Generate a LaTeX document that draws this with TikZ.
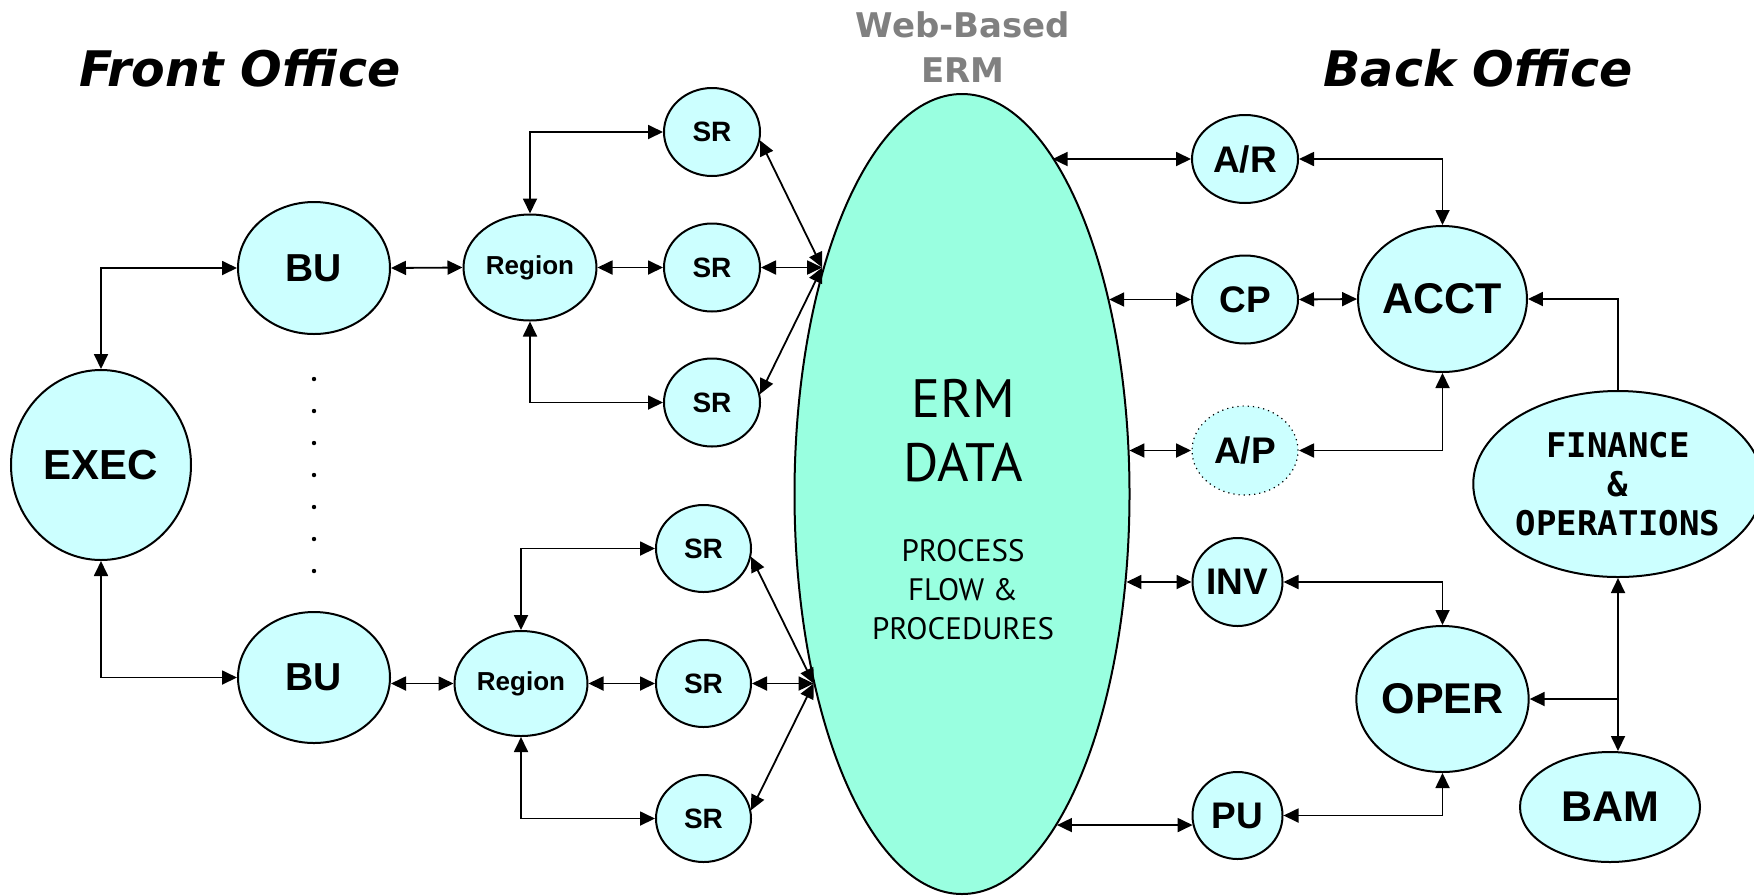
\documentclass[tikz,border=0pt]{standalone}
\usepackage{fontspec}
\setmainfont{Liberation Sans}
\newfontfamily\djv{DejaVu Sans}
\newfontfamily\djmono{DejaVu Sans Mono}
\newfontfamily\pts{PT Sans}
\usetikzlibrary{shapes.geometric,arrows.meta}
\definecolor{nodefill}{HTML}{CCFFFF}
\definecolor{ermfill}{HTML}{99FFE0}
\definecolor{webgray}{HTML}{808080}
\tikzset{
  bub/.style={ellipse, draw=black, line width=1pt, fill=nodefill, inner sep=0pt},
  sz/.style 2 args={minimum width=#1*0.5pt, minimum height=#2*0.5pt},
  lab/.style={font=\bfseries\fontsize{#1}{#1}\selectfont},
  link/.style={line width=0.9pt, {Triangle[length=7.5pt,width=7pt]}-{Triangle[length=7.5pt,width=7pt]}},
  onelink/.style={line width=0.9pt, -{Triangle[length=7.5pt,width=7pt]}},
  title/.style={font=\djv\bfseries\itshape\fontsize{24.5}{24.5}\selectfont},
}
\begin{document}
\begin{tikzpicture}[x=0.5pt,y=-0.5pt]
\useasboundingbox[fill=white] (0,0) rectangle (1754,895);

% titles
\node[title] (fo) at (240,68) {Front Office};
\node[title] (bo) at (1478,68) {Back Office};
\node[font=\djv\bfseries\fontsize{17}{22.25}\selectfont, text=webgray, align=center] (web) at (963,47) {Web-Based\\ERM};

% central ellipse
\node[ellipse, draw=black, line width=1pt, fill=ermfill, inner sep=0pt, sz={335}{800}] (erm) at (962,494) {};
\node[font=\pts\fontsize{27}{32}\selectfont, align=center] (ermtxt) at (963,431) {ERM\\DATA};
\node[font=\pts\fontsize{15.5}{19.5}\selectfont, align=center] (proc) at (963,590) {PROCESS\\FLOW \&\\PROCEDURES};

% front office
\node[bub,sz={180}{190},lab=21] (exec) at (101,465) {EXEC};
\node[bub,sz={152}{132},lab=19.5] (buT) at (314,268) {BU};
\node[bub,sz={152}{131},lab=19.5] (buB) at (314,677.5) {BU};
\node[bub,sz={133}{106},lab=13] (regT) at (530,267.5) {Region};
\node[bub,sz={133}{105},lab=13] (regB) at (521,683.5) {Region};
\node[bub,sz={96}{88},lab=14] (srT1) at (712,132) {SR};
\node[bub,sz={96}{88},lab=14] (srT2) at (712,267.5) {SR};
\node[bub,sz={96}{88},lab=14] (srT3) at (712,402.5) {SR};
\node[bub,sz={95}{87},lab=14] (srB1) at (703.5,548.5) {SR};
\node[bub,sz={95}{87},lab=14] (srB2) at (703.5,683.5) {SR};
\node[bub,sz={95}{87},lab=14] (srB3) at (703.5,818.5) {SR};

\foreach \k in {0,...,6} \fill (314,379+32*\k) circle[radius=1.1pt];

% back office
\node[bub,sz={106}{88},lab=18.5] (ar) at (1245,159) {A/R};
\node[bub,sz={106}{88},lab=18.5] (cp) at (1245,299.5) {CP};
\node[bub,sz={106}{89},lab=18.5,draw=none] (ap) at (1245,450.5) {A/P};
\draw[line width=0.6pt, dotted] (ap.center) ellipse[x radius=26.5pt, y radius=22.25pt];
\node[bub,sz={90}{88},lab=18.5] (inv) at (1237.5,582) {INV};
\node[bub,sz={90}{87},lab=18.5] (pu) at (1237.5,815.5) {PU};
\node[bub,sz={166}{146},lab=21.5] (acct) at (1442.5,299) {ACCT};
\node[bub,sz={166}{146},lab=21.5] (oper) at (1442.5,699) {OPER};
\node[bub,sz={270}{186},align=center,font=\djmono\bfseries\fontsize{17}{19.5}\selectfont] (fin) at (1618,484) {FINANCE\\\&\\OPERATIONS};
\node[bub,sz={180}{110},lab=21.5] (bam) at (1610,807) {BAM};

% front office connectors
\draw[link] (exec.north) |- (buT.west);
\draw[link] (exec.south) |- (buB.west);
\draw[link] (buT.east) -- (regT.west);
\draw[link] (buB.east |- regB.west) -- (regB.west);
\draw[link] (regT.north) |- (srT1.west);
\draw[link] (regT.east) -- (srT2.west);
\draw[link] (regT.south) |- (srT3.west);
\draw[link] (regB.north) |- (srB1.west);
\draw[link] (regB.east) -- (srB2.west);
\draw[link] (regB.south) |- (srB3.west);

\coordinate (cT) at (erm.122 |- srT2.east);
\coordinate (cB) at (erm.232 |- srB2.east);
\draw[link] (srT1.-10) -- (cT);
\draw[link] (srT2.east) -- (cT);
\draw[link] (srT3.10) -- (cT);
\draw[link] (srB1.-10) -- (cB);
\draw[link] (srB2.east) -- (cB);
\draw[link] (srB3.10) -- (cB);

% back office connectors
\draw[link] (erm.75 |- ar.west) -- (ar.west);
\draw[link] (erm.53 |- cp.west) -- (cp.west);
\draw[link] (erm.15 |- ap.west) -- (ap.west);
\draw[link] (erm.-28 |- inv.west) -- (inv.west);
\draw[link] (erm.-74 |- pu.-168) -- (pu.-168);

\draw[link] (ar.east) -| (acct.north);
\draw[link] (cp.east) -- (acct.west);
\draw[link] (ap.east) -| (acct.south);
\draw[onelink] (fin.north) |- (acct.east);
\draw[link] (inv.east) -| (oper.north);
\draw[link] (pu.east) -| (oper.south);
\draw[link] (fin.south) -- (fin.south |- bam.north);
\coordinate (jn) at (fin.south |- oper.east);
\draw[onelink] (jn) -- (oper.east);
\end{tikzpicture}
\end{document}
